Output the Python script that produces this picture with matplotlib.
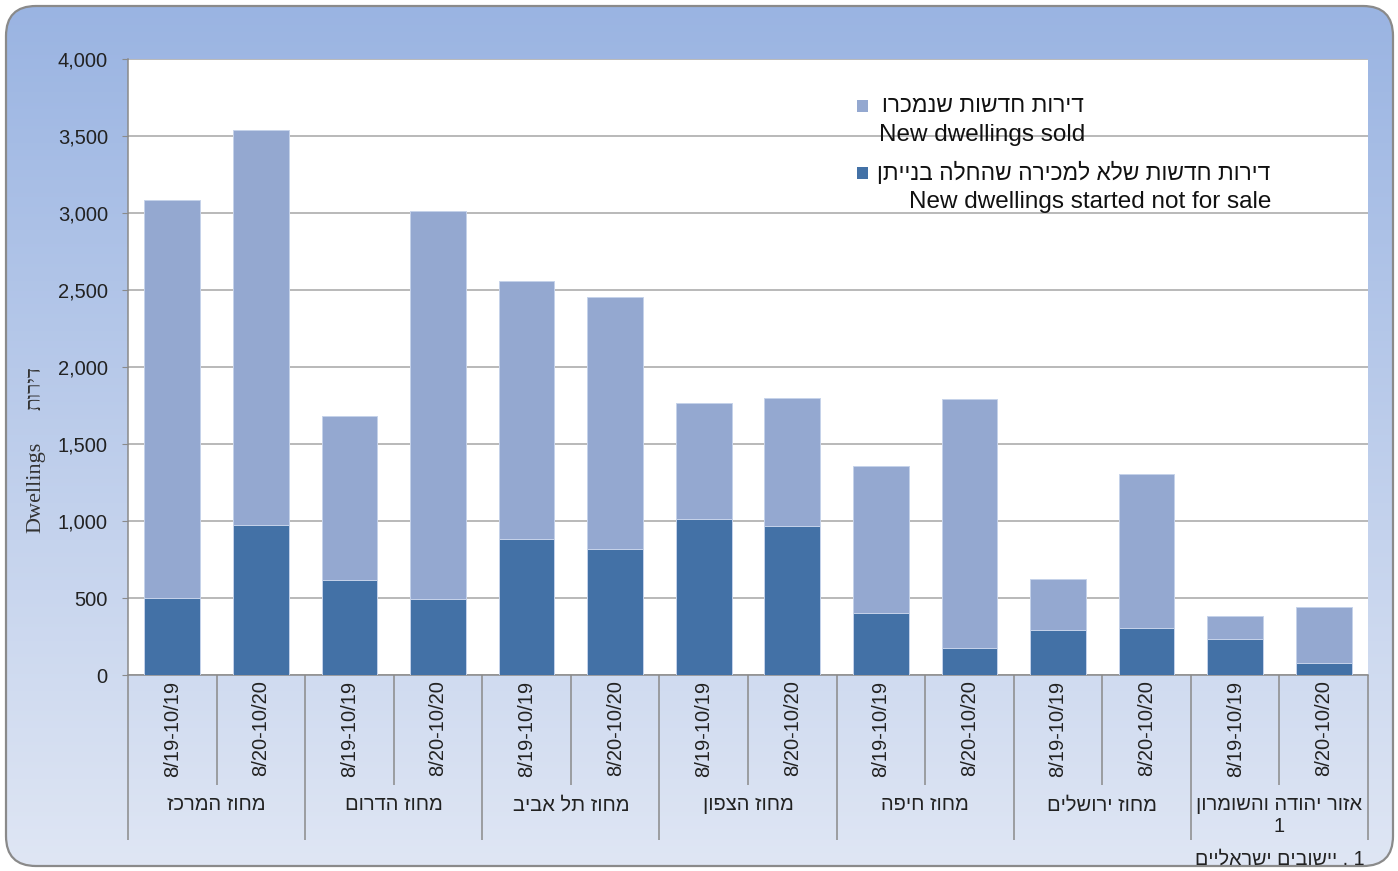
import numpy as np
import matplotlib
matplotlib.use("Agg")
import matplotlib.pyplot as plt
from matplotlib.patches import FancyBboxPatch, Rectangle
from matplotlib.ticker import FuncFormatter

plt.rcParams['font.family'] = ['Liberation Sans', 'DejaVu Sans']

# Data
regions = ["מחוז המרכז", "מחוז הדרום", "מחוז תל אביב", "מחוז הצפון",
           "מחוז חיפה", "מחוז ירושלים", "אזור יהודה והשומרון\n1"]
periods = ["8/19-10/19", "8/20-10/20"]
not_for_sale = [500, 974, 617, 494, 883, 818, 1013, 968, 403, 175, 292, 305, 234, 78]
sold = [2585, 2565, 1065, 2519, 1675, 1637, 753, 831, 954, 1617, 331, 1000, 149, 364]

legend_he = ["דירות חדשות שנמכרו", "דירות חדשות שלא למכירה שהחלה בנייתן"]
legend_en = ["New dwellings sold", "New dwellings started not for sale"]
footnote = "1 . יישובים ישראליים"


def vis(s):
    # matplotlib has no bidi support: put right-to-left text in visual order
    return "\n".join(line[::-1] for line in s.split("\n"))


light = "#94A8D0"
dark = "#4371A6"

fig = plt.figure(figsize=(13.98, 8.71), dpi=100)
fig.patch.set_facecolor("white")

# rounded gradient background
bg = fig.add_axes([0, 0, 1, 1], zorder=-10)
bg.set_xlim(0, 1398)
bg.set_ylim(871, 0)
bg.axis("off")
frame = FancyBboxPatch((6, 6), 1387, 860, boxstyle="round,pad=0,rounding_size=30",
                       facecolor="none", edgecolor="#8a8a8a", linewidth=1.6, zorder=3)
bg.add_patch(frame)
top_c = np.array([154, 180, 226]) / 255
bot_c = np.array([223, 230, 244]) / 255
t = np.linspace(0, 1, 256)[:, None]
grad = (top_c[None, :] * (1 - t) + bot_c[None, :] * t)[:, None, :]
im = bg.imshow(grad, extent=(6, 1393, 866, 6), aspect="auto", zorder=1)
im.set_clip_path(frame)

ax = fig.add_axes([128 / 1398, 1 - 675 / 871, 1240 / 1398, 616 / 871])
ax.set_facecolor("white")

x = np.arange(len(sold))
ax.bar(x, not_for_sale, width=0.63, color=dark, edgecolor="#c5d2ea", linewidth=0.7, zorder=3)
ax.bar(x, sold, width=0.63, bottom=not_for_sale, color=light, edgecolor="#c5d2ea",
       linewidth=0.7, zorder=3)

ax.set_xlim(-0.5, len(sold) - 0.5)
ax.set_ylim(0, 4000)
ax.set_yticks(np.arange(0, 4001, 500))
ax.yaxis.set_major_formatter(FuncFormatter(lambda v, p: f"{int(v):,}"))
ax.grid(axis="y", color="#a6a6a6", linewidth=1.1)
ax.set_axisbelow(True)
ax.tick_params(axis="y", direction="out", length=4.5, color="#8a8a8a", labelsize=14.5,
               labelcolor="#222222", pad=10)

tick_labels = [periods[i % 2] for i in range(len(sold))]
ax.set_xticks(x)
ax.set_xticklabels(tick_labels, rotation=90, fontsize=14.5, color="#222222", va="top")
ax.tick_params(axis="x", length=0, pad=4)

for s in ["top", "right"]:
    ax.spines[s].set_visible(False)
for s in ["left", "bottom"]:
    ax.spines[s].set_color("#8a8a8a")
    ax.spines[s].set_linewidth(1.1)

# category separators below the axis
xt = ax.get_xaxis_transform()
inner = np.arange(0.5, len(sold), 2)
outer = np.arange(-0.5, len(sold), 2)
ax.vlines(inner, -0.179, 0, transform=xt, colors="#8a8a8a", linewidth=1.1, clip_on=False)
ax.vlines(outer, -0.268, 0, transform=xt, colors="#8a8a8a", linewidth=1.1, clip_on=False)

for g, name in enumerate(regions):
    ax.text(2 * g + 0.5, -0.195, vis(name), transform=xt, ha="center", va="top",
            fontsize=14.5, color="#222222", multialignment="center", linespacing=1.2)

# y label: english (serif) and hebrew
ax.text(-0.074, 0.305, "Dwellings", transform=ax.transAxes, rotation=90,
        ha="center", va="center", fontsize=16, color="#333333",
        family=["Liberation Serif", "DejaVu Serif"])
ax.text(-0.074, 0.466, vis("דירות"), transform=ax.transAxes, rotation=90,
        ha="center", va="center", fontsize=15, color="#333333",
        family=["Liberation Serif", "DejaVu Sans"])

# legend drawn by hand (marker beside hebrew line, english line under it)
leg_y = [0.924, 0.815]
leg_right = [0.771, 0.921]
for i, col in enumerate([light, dark]):
    ax.add_patch(Rectangle((0.588, leg_y[i] - 0.0095), 0.0085, 0.019, transform=ax.transAxes,
                           facecolor=col, edgecolor="none", clip_on=False, zorder=5))
    ax.text(leg_right[i], leg_y[i], vis(legend_he[i]), transform=ax.transAxes,
            ha="right", va="center", fontsize=16.4, color="#111111", zorder=5)
    ax.text(leg_right[i] + 0.001, leg_y[i] - 0.047, legend_en[i], transform=ax.transAxes,
            ha="right", va="center", fontsize=17.5, color="#111111", zorder=5)

fig.text(1365 / 1398, 1 - 859 / 871, vis(footnote), ha="right", va="center",
         fontsize=14.2, color="#222222")

fig.savefig("out.png", dpi=100)
